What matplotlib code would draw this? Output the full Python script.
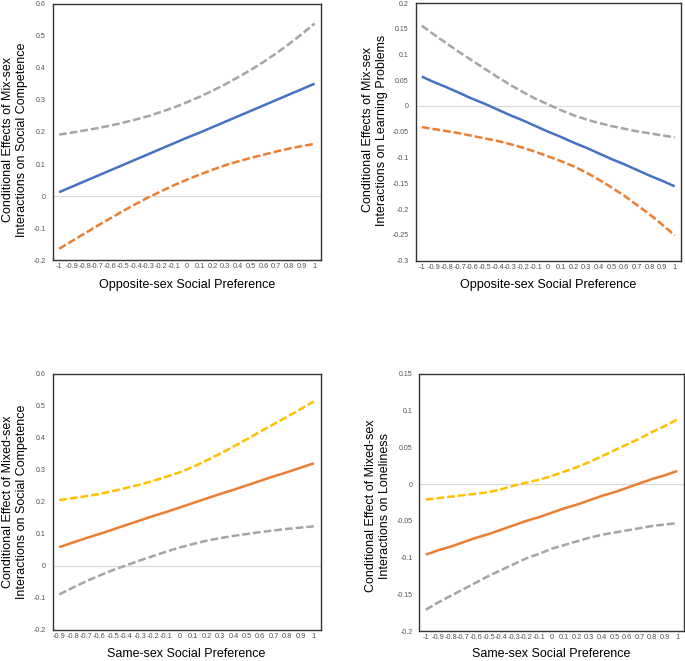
import matplotlib
matplotlib.use("Agg")
import matplotlib.pyplot as plt

W, H = 685, 661

# x categories (predictor values)
x_opp = [-1, -0.9, -0.8, -0.7, -0.6, -0.5, -0.4, -0.3, -0.2, -0.1, 0,
         0.1, 0.2, 0.3, 0.4, 0.5, 0.6, 0.7, 0.8, 0.9, 1]
x_same = x_opp[1:]      # bottom-left panel starts at -0.9
x_lone = x_opp

# top-left: social competence by opposite-sex preference
sc_est = [0.012, 0.029, 0.046, 0.063, 0.080, 0.097, 0.114, 0.131, 0.148, 0.165, 0.182,
          0.198, 0.215, 0.232, 0.249, 0.266, 0.283, 0.300, 0.317, 0.334, 0.351]
sc_hi = [0.192, 0.198, 0.205, 0.212, 0.220, 0.229, 0.239, 0.250, 0.263, 0.277, 0.293,
         0.310, 0.329, 0.349, 0.371, 0.394, 0.419, 0.446, 0.475, 0.506, 0.539]
sc_lo = [-0.165, -0.141, -0.117, -0.093, -0.070, -0.047, -0.025, -0.004, 0.015, 0.034, 0.051,
         0.067, 0.082, 0.096, 0.108, 0.119, 0.129, 0.139, 0.148, 0.156, 0.163]

# top-right: learning problems by opposite-sex preference
lp_est = [0.057, 0.046, 0.036, 0.025, 0.014, 0.004, -0.007, -0.018, -0.028, -0.039, -0.050,
          -0.060, -0.071, -0.081, -0.092, -0.103, -0.113, -0.124, -0.135, -0.145, -0.156]
lp_hi = [0.156, 0.138, 0.121, 0.104, 0.088, 0.072, 0.056, 0.041, 0.027, 0.014, 0.003,
         -0.008, -0.018, -0.026, -0.033, -0.039, -0.044, -0.049, -0.053, -0.057, -0.061]
lp_lo = [-0.041, -0.045, -0.049, -0.053, -0.058, -0.063, -0.068, -0.074, -0.081, -0.089, -0.098,
         -0.107, -0.117, -0.129, -0.143, -0.158, -0.174, -0.192, -0.210, -0.230, -0.251]

# bottom-left: social competence by same-sex preference
sc2_est = [0.059, 0.073, 0.087, 0.100, 0.114, 0.128, 0.142, 0.156, 0.169, 0.183,
           0.197, 0.211, 0.225, 0.238, 0.252, 0.266, 0.280, 0.293, 0.307, 0.321]
sc2_hi = [0.206, 0.212, 0.218, 0.225, 0.234, 0.244, 0.254, 0.266, 0.279, 0.293,
          0.310, 0.330, 0.351, 0.373, 0.396, 0.420, 0.443, 0.466, 0.490, 0.514]
sc2_lo = [-0.089, -0.068, -0.048, -0.030, -0.013, 0.002, 0.017, 0.031, 0.045, 0.058,
          0.069, 0.079, 0.087, 0.094, 0.100, 0.106, 0.111, 0.116, 0.120, 0.124]

# bottom-right: loneliness by same-sex preference
lon_est = [-0.096, -0.090, -0.085, -0.079, -0.073, -0.068, -0.062, -0.056, -0.050, -0.045, -0.039,
           -0.033, -0.028, -0.022, -0.016, -0.011, -0.005, 0.001, 0.007, 0.012, 0.018]
lon_hi = [-0.021, -0.019, -0.017, -0.015, -0.013, -0.011, -0.007, -0.002, 0.002, 0.006, 0.011,
          0.017, 0.023, 0.030, 0.038, 0.046, 0.054, 0.062, 0.071, 0.079, 0.088]
lon_lo = [-0.171, -0.161, -0.152, -0.143, -0.134, -0.125, -0.117, -0.109, -0.101, -0.095, -0.088,
          -0.083, -0.078, -0.073, -0.069, -0.066, -0.063, -0.060, -0.057, -0.055, -0.053]

yt_sc = [-0.2, -0.1, 0, 0.1, 0.2, 0.3, 0.4, 0.5, 0.6]
yt_lp = [-0.3, -0.25, -0.2, -0.15, -0.1, -0.05, 0, 0.05, 0.1, 0.15, 0.2]
yt_lon = [-0.2, -0.15, -0.1, -0.05, 0, 0.05, 0.1, 0.15]

BLUE, ORANGE, GRAY, YELLOW = "#4472C4", "#ED7D31", "#A5A5A5", "#FFC000"
TICK_FONT = "Liberation Sans"
LABEL_FONT = "Liberation Sans"

fig = plt.figure(figsize=(W / 100, H / 100), dpi=100)


def px_axes(left, right, top, bottom):
    return fig.add_axes([left / W, 1 - bottom / H, (right - left) / W, (bottom - top) / H])


def draw_panel(ax, x, est, hi, lo, c_est, c_hi, c_lo, yticks):
    ax.axhline(0, color="#D9D9D9", lw=0.9, zorder=1)
    ax.plot(x, hi, color=c_hi, lw=1.8, dashes=(3.1, 1.2), zorder=3)
    ax.plot(x, lo, color=c_lo, lw=1.8, dashes=(3.1, 1.2), zorder=3)
    ax.plot(x, est, color=c_est, lw=1.8, solid_capstyle="butt", zorder=4)
    ax.set_xlim(x[0] - 0.05, x[-1] + 0.05)
    ax.set_ylim(yticks[0], yticks[-1])
    ax.set_xticks(x)
    ax.set_xticklabels(["%g" % v for v in x], fontsize=5.3, color="#505050", family=TICK_FONT)
    ax.set_yticks(yticks)
    ax.set_yticklabels(["%g" % v for v in yticks], fontsize=5.0, color="#505050", family=TICK_FONT)
    ax.tick_params(axis="x", length=0, pad=2.5)
    ax.tick_params(axis="y", length=0, pad=5.0)
    for s in ax.spines.values():
        s.set_color("#333333")
        s.set_linewidth(1.0)


ax1 = px_axes(52.7, 321, 4, 260)
draw_panel(ax1, x_opp, sc_est, sc_hi, sc_lo, BLUE, GRAY, ORANGE, yt_sc)
ax2 = px_axes(415.5, 681, 3, 260.5)
draw_panel(ax2, x_opp, lp_est, lp_hi, lp_lo, BLUE, GRAY, ORANGE, yt_lp)
ax3 = px_axes(52.5, 320.5, 374, 630)
draw_panel(ax3, x_same, sc2_est, sc2_hi, sc2_lo, ORANGE, YELLOW, GRAY, yt_sc)
ax4 = px_axes(419.5, 683.5, 374, 631)
draw_panel(ax4, x_lone, lon_est, lon_hi, lon_lo, ORANGE, YELLOW, GRAY, yt_lon)


def label(x, y, s, rot=0):
    fig.text(x / W, 1 - y / H, s, rotation=rot, ha="center", va="center",
             fontsize=9, family=LABEL_FONT, linespacing=1.2, multialignment="center")


label(15, 140, "Conditional Effects of Mix-sex\nInteractions on Social Competence", 90)
label(375, 130, "Conditional Effects of Mix-sex\nInteractions on Learning Problems", 90)
label(15, 502, "Conditional Effect of Mixed-sex\nInteractions on Social Competence", 90)
label(378, 506, "Conditional Effect of Mixed-sex\nInteractions on Loneliness", 90)

label(187, 285, "Opposite-sex Social Preference")
label(548, 285, "Opposite-sex Social Preference")
label(186, 654, "Same-sex Social Preference")
label(551, 654, "Same-sex Social Preference")

fig.savefig("out.png", dpi=100)
